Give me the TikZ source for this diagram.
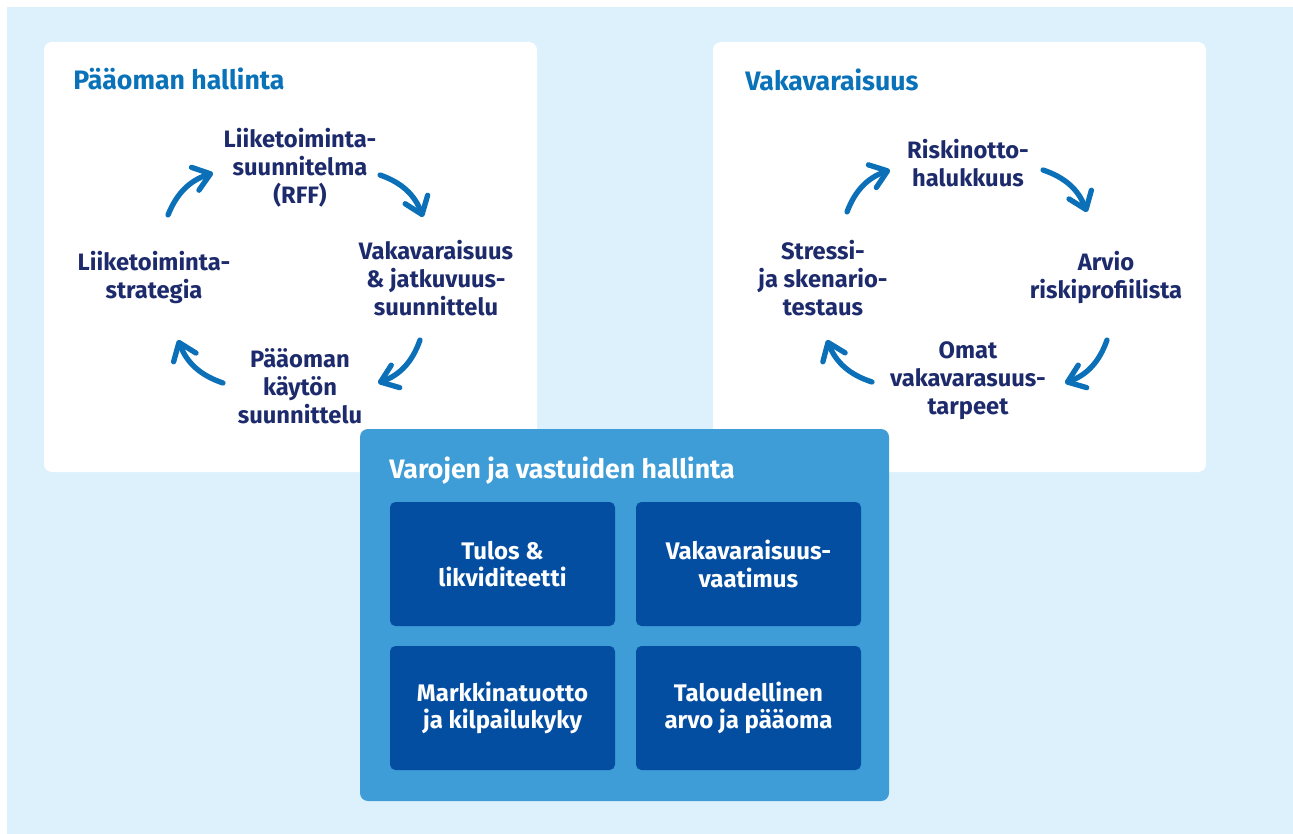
\documentclass[tikz,border=0pt]{standalone}
\usepackage{fontspec}
\setmainfont{Fira Sans}
\usepackage{xcolor}
\usetikzlibrary{positioning, arrows.meta}
\definecolor{skyback}{HTML}{DCF1FC}
\definecolor{headblue}{HTML}{0A72B9}
\definecolor{inkblue}{HTML}{1D2B6C}
\definecolor{arrowblue}{HTML}{0B70B8}
\definecolor{frameblue}{HTML}{3E9CD7}
\definecolor{tileblue}{HTML}{044EA2}

\begin{document}
\begin{tikzpicture}[
			x=0.75pt, y=0.75pt,
			node distance=15pt and 15.75pt,
			panel/.style={rounded corners=6pt, fill=white},
			heading/.style={anchor=base west, inner sep=0, text=headblue, font=\bfseries\fontsize{20}{24}\selectfont},
			phase/.style={align=center, inner sep=0, text=inkblue, font=\bfseries\fontsize{17.8}{21}\selectfont},
			tile/.style={rectangle, rounded corners=4pt, fill=tileblue, text=white, align=center, outer sep=0, minimum width=168.75pt, minimum height=93pt, font=\bfseries\fontsize{18}{20.8}\selectfont},
			cyclearrow/.style={-{Straight Barb[length=12pt, width=18pt, round]}, line width=4pt, line cap=round, draw=arrowblue},
			]
			
			% Background and panels
			\useasboundingbox (0,0) rectangle (1293,-834);
			\fill[white] (0,0) rectangle (1293,-834);
			\fill[skyback] (7,-7) rectangle (1293,-834);
			\fill[panel] (44,-42) rectangle (537,-472);
			\fill[panel] (713,-42) rectangle (1206,-472);
			\fill[frameblue, rounded corners=6pt] (360,-429) rectangle (889,-801);
			
			% Headings
			\node[heading] (capital) at (73,-90) {Pääoman hallinta};
			\node[heading] (solvency) at (745,-91) {Vakavaraisuus};
			\node[heading, text=white] (alm) at (389,-478) {Varojen ja vastuiden hallinta};
			
			% Nodes, left cycle
			\node[phase] (plan) at (300,-168) {Liiketoiminta-\\suunnitelma\\(RFF)};
			\node[phase] (continuity) at (436,-278) {Vakavaraisuus\\\& jatkuvuus-\\suunnittelu};
			\node[phase] (usage) at (300,-386) {Pääoman\\käytön\\suunnittelu};
			\node[phase] (strategy) at (154,-278) {Liiketoiminta-\\strategia};
			
			% Nodes, right cycle
			\node[phase] (appetite) at (968,-163) {Riskinotto-\\halukkuus};
			\node[phase] (profile) at (1106,-278) {Arvio\\riskiprofiilista};
			\node[phase] (needs) at (968,-381) {Omat\\vakavarasuus-\\tarpeet};
			\node[phase] (stress) at (823,-278) {Stressi-\\ja skenario-\\testaus};
			
			% Tiles
			\node[tile] (result) at (502.5,-564) {Tulos \&\\likviditeetti};
			\node[tile, right=of result] (requirement) {Vakavaraisuus-\\vaatimus};
			\node[tile, below=of result] (market) {Markkinatuotto\\ja kilpailukyky};
			\node[tile, right=of market] (value) {Taloudellinen\\arvo ja pääoma};
			
			% Arrow ends
			\coordinate (l1s) at (168,-215); \coordinate (l1e) at (213,-173);
			\coordinate (l2s) at (380,-175); \coordinate (l2e) at (423,-217);
			\coordinate (l3s) at (420,-340); \coordinate (l3e) at (378,-383);
			\coordinate (l4s) at (223,-383); \coordinate (l4e) at (178,-340);
			\coordinate (r1s) at (847,-212); \coordinate (r1e) at (890,-170);
			\coordinate (r2s) at (1043,-170); \coordinate (r2e) at (1087,-212);
			\coordinate (r3s) at (1107,-340); \coordinate (r3e) at (1065,-383);
			\coordinate (r4s) at (872,-382); \coordinate (r4e) at (827,-340);
			
			% Arrows
			\foreach \side in {l,r}
			\foreach \i in {1,...,4}
			\draw[cyclearrow] (\side\i s) to[bend left=25] (\side\i e);
		\end{tikzpicture}
\end{document}
